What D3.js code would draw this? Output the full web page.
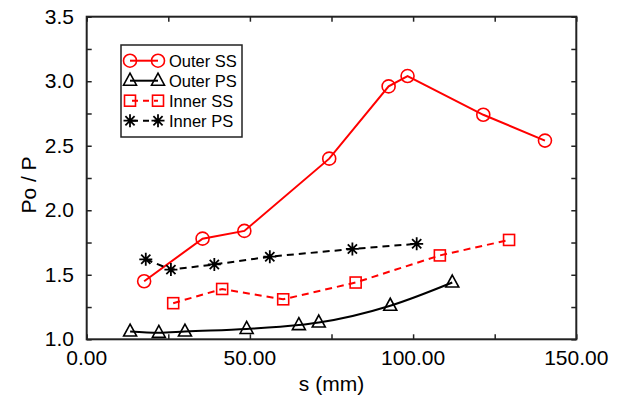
<!DOCTYPE html>
<html>
<head>
<meta charset="utf-8">
<script src="https://cdn.jsdelivr.net/npm/d3@7"></script>
<style>
  body { margin: 0; background: #fff; }
  svg text { font-family: "Liberation Sans", Arial, Helvetica, sans-serif; }
</style>
</head>
<body>
<script>
// values
var outerSS_s = [17.6, 35.5, 48.3, 74.3, 92.5, 98.3, 121.5, 140.4];
var outerSS_v = [1.45, 1.78, 1.84, 2.40, 2.96, 3.04, 2.74, 2.54];
var outerPS_s = [13.3, 22.1, 30.1, 49.0, 65.0, 71.1, 93.0, 112.0];
var outerPS_v = [1.06, 1.05, 1.06, 1.08, 1.11, 1.13, 1.26, 1.44];
var innerSS_s = [26.5, 41.5, 60.2, 82.4, 108.2, 129.4];
var innerSS_v = [1.28, 1.39, 1.31, 1.44, 1.65, 1.77];
var innerPS_s = [18.1, 25.8, 39.1, 56.1, 81.4, 101.1];
var innerPS_v = [1.62, 1.54, 1.58, 1.64, 1.70, 1.74];

var xTicks = [0, 50, 100, 150];
var yTicks = [1.0, 1.5, 2.0, 2.5, 3.0, 3.5];
var seriesNames = ["Outer SS", "Outer PS", "Inner SS", "Inner PS"];

var width = 617, height = 397;
// plot frame (note: "top" is reserved on window, so prefix these)
var pLeft = 86.7, pRight = 576.3, pTop = 16.7, pBottom = 339.3;

var x = d3.scaleLinear().domain([0, 150]).range([pLeft, pRight]);
var y = d3.scaleLinear().domain([1.0, 3.5]).range([pBottom, pTop]);

var svg = d3.select("body").append("svg")
    .attr("width", width)
    .attr("height", height);

function zip(s, v) {
    return s.map(function (d, i) { return {s: d, v: v[i]}; });
}

var series = [
    {name: seriesNames[0], data: zip(outerSS_s, outerSS_v), color: "#ff0000", dash: null, marker: "circle", curve: d3.curveLinear},
    {name: seriesNames[1], data: zip(outerPS_s, outerPS_v), color: "#000000", dash: null, marker: "triangle", curve: d3.curveMonotoneX},
    {name: seriesNames[2], data: zip(innerSS_s, innerSS_v), color: "#ff0000", dash: "7,5", marker: "square", curve: d3.curveLinear},
    {name: seriesNames[3], data: zip(innerPS_s, innerPS_v), color: "#000000", dash: "7,5", marker: "star", curve: d3.curveLinear}
];

// axes: ticks inward on all four sides
var minorX = d3.range(0, 151, 25);
var minorY = d3.range(1.0, 3.51, 0.25);

svg.append("g")
    .attr("transform", "translate(0," + pBottom + ")")
    .call(d3.axisBottom(x).tickValues(minorX).tickSize(-5).tickFormat(""));
svg.append("g")
    .attr("transform", "translate(0," + pTop + ")")
    .call(d3.axisTop(x).tickValues(minorX).tickSize(-5).tickFormat(""));
svg.append("g")
    .attr("transform", "translate(" + pLeft + ",0)")
    .call(d3.axisLeft(y).tickValues(minorY).tickSize(-5).tickFormat(""));
svg.append("g")
    .attr("transform", "translate(" + pRight + ",0)")
    .call(d3.axisRight(y).tickValues(minorY).tickSize(-5).tickFormat(""));

svg.selectAll(".domain").remove();
svg.selectAll(".tick line").attr("stroke", "#222").attr("stroke-width", 1.5);

svg.append("rect")
    .attr("x", pLeft).attr("y", pTop)
    .attr("width", pRight - pLeft).attr("height", pBottom - pTop)
    .attr("fill", "none").attr("stroke", "#222").attr("stroke-width", 2);

// tick labels
svg.selectAll(".xlab").data(xTicks).enter().append("text")
    .attr("x", function (d) { return x(d); })
    .attr("y", 365)
    .attr("text-anchor", "middle")
    .attr("font-size", 21)
    .text(function (d) { return d3.format(".2f")(d); });

svg.selectAll(".ylab").data(yTicks).enter().append("text")
    .attr("x", 74)
    .attr("y", function (d) { return y(d) + 7; })
    .attr("text-anchor", "end")
    .attr("font-size", 21)
    .text(function (d) { return d3.format(".1f")(d); });

svg.append("text")
    .attr("x", (pLeft + pRight) / 2)
    .attr("y", 391)
    .attr("text-anchor", "middle")
    .attr("font-size", 21)
    .text("s (mm)");

svg.append("text")
    .attr("transform", "translate(36,185) rotate(-90)")
    .attr("text-anchor", "middle")
    .attr("font-size", 21)
    .text("Po / P");

// markers
function drawMarker(g, type, color) {
    if (type === "circle") {
        g.append("circle").attr("r", 6.5)
            .attr("fill", "none").attr("stroke", color).attr("stroke-width", 1.6);
    } else if (type === "square") {
        g.append("rect").attr("x", -5.5).attr("y", -5.5).attr("width", 11).attr("height", 11)
            .attr("fill", "none").attr("stroke", color).attr("stroke-width", 1.6);
    } else if (type === "triangle") {
        g.append("path").attr("d", "M0,-7.5L6.5,4.5L-6.5,4.5Z")
            .attr("fill", "none").attr("stroke", color).attr("stroke-width", 1.6);
    } else if (type === "star") {
        var r = 6.5;
        var d = "";
        [0, 45, 90, 135].forEach(function (a) {
            var rad = a * Math.PI / 180;
            var dx = r * Math.cos(rad), dy = r * Math.sin(rad);
            d += "M" + (-dx) + "," + (-dy) + "L" + dx + "," + dy;
        });
        g.append("path").attr("d", d)
            .attr("fill", "none").attr("stroke", color).attr("stroke-width", 1.8);
    }
}

series.forEach(function (sr) {
    var line = d3.line()
        .x(function (d) { return x(d.s); })
        .y(function (d) { return y(d.v); })
        .curve(sr.curve);

    svg.append("path")
        .datum(sr.data)
        .attr("d", line)
        .attr("fill", "none")
        .attr("stroke", sr.color)
        .attr("stroke-width", 2)
        .attr("stroke-dasharray", sr.dash);

    svg.selectAll(null)
        .data(sr.data)
        .enter().append("g")
        .attr("transform", function (d) { return "translate(" + x(d.s) + "," + y(d.v) + ")"; })
        .each(function () { drawMarker(d3.select(this), sr.marker, sr.color); });
});

// legend
var legend = svg.append("g");
legend.append("rect")
    .attr("x", 121).attr("y", 45)
    .attr("width", 121).attr("height", 92)
    .attr("fill", "#fff").attr("stroke", "#222").attr("stroke-width", 1.5);

series.forEach(function (sr, i) {
    var ly = 60.7 + i * 20;
    legend.append("line")
        .attr("x1", 130).attr("x2", 158)
        .attr("y1", ly).attr("y2", ly)
        .attr("stroke", sr.color).attr("stroke-width", 2)
        .attr("stroke-dasharray", sr.dash ? "6,5" : null)
        .attr("stroke-dashoffset", sr.dash ? -2 : null);
    [130, 158].forEach(function (mx) {
        var g = legend.append("g").attr("transform", "translate(" + mx + "," + ly + ")");
        drawMarker(g, sr.marker, sr.color);
    });
    legend.append("text")
        .attr("x", 169)
        .attr("y", ly + 6)
        .attr("font-size", 16.5)
        .text(sr.name);
});
</script>
</body>
</html>
